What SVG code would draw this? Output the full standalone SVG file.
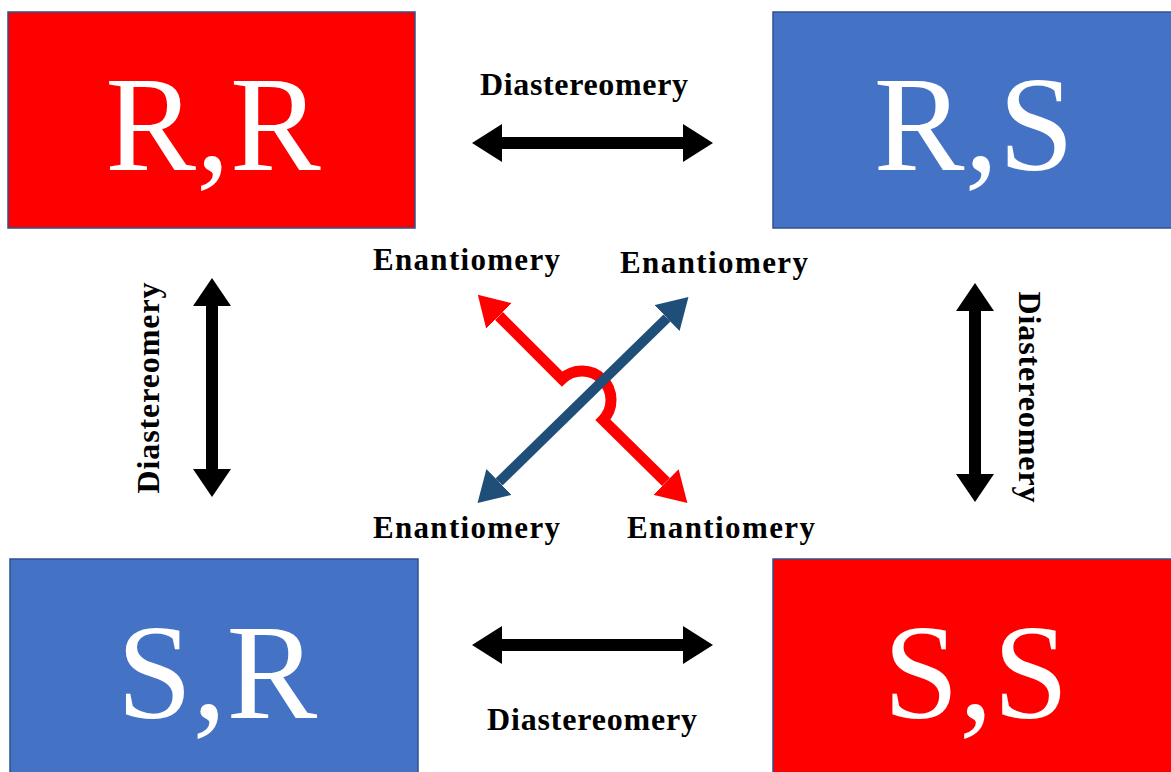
<svg xmlns="http://www.w3.org/2000/svg" width="1171" height="772" viewBox="0 0 1171 772">
<style>
.box{stroke:#2F528F;stroke-width:1.5}
.red{fill:#FF0000}
.blue{fill:#4472C4}
.big{font-family:"Liberation Serif","Times New Roman",serif;font-size:136px;fill:#fff;text-anchor:middle}
.lbl{font-family:"Liberation Serif","Times New Roman",serif;font-weight:bold;fill:#000}
.blk{fill:#000}
</style>
<defs>
<marker id="hr" viewBox="0 0 30 36" refX="0" refY="18" markerUnits="userSpaceOnUse" markerWidth="30" markerHeight="36" orient="auto-start-reverse"><path d="M0,0 L30,18 L0,36 z" fill="#FF0000"/></marker>
<marker id="hb" viewBox="0 0 30 36" refX="0" refY="18" markerUnits="userSpaceOnUse" markerWidth="30" markerHeight="36" orient="auto-start-reverse"><path d="M0,0 L30,18 L0,36 z" fill="#1F4E79"/></marker>
</defs>
<rect width="1171" height="772" fill="#fff"/>
<g id="node-RR"><rect class="box red" x="8" y="12" width="407" height="216"/><text class="big" x="213" y="170">R,R</text></g>
<g id="node-RS"><rect class="box blue" x="773" y="12" width="400" height="216"/><text class="big" x="974" y="170">R,S</text></g>
<g id="node-SR"><rect class="box blue" x="10" y="559" width="408" height="220"/><text class="big" x="217" y="718">S,R</text></g>
<g id="node-SS"><rect class="box red" x="773" y="559" width="400" height="220"/><text class="big" x="976" y="718">S,S</text></g>
<g id="connectors">
<polygon class="blk" points="472,143 502,124 502,137 683,137 683,124 713,143 683,162 683,149 502,149 502,162"/>
<polygon class="blk" points="472,645 502,626 502,639 683,639 683,626 713,645 683,664 683,651 502,651 502,664"/>
<polygon class="blk" points="212,278 231,306 218,306 218,469 231,469 212,497 193,469 206,469 206,306 193,306"/>
<polygon class="blk" points="975,283 994,311 981,311 981,474 994,474 975,502 956,474 969,474 969,311 956,311"/>
<path d="M499,316 L562,379 A29,29 0 0 1 603,420 L666,482" fill="none" stroke="#FF0000" stroke-width="11" marker-start="url(#hr)" marker-end="url(#hr)"/>
<path d="M499,482 L667,318" fill="none" stroke="#1F4E79" stroke-width="10" marker-start="url(#hb)" marker-end="url(#hb)"/>
</g>
<g id="labels">
<text class="lbl" x="480" y="95" font-size="32" textLength="208" lengthAdjust="spacing">Diastereomery</text>
<text class="lbl" x="487" y="730" font-size="32" textLength="210" lengthAdjust="spacing">Diastereomery</text>
<text class="lbl" font-size="32" text-anchor="middle" transform="translate(159,388) rotate(-90)" textLength="211" lengthAdjust="spacing">Diastereomery</text>
<text class="lbl" font-size="32" text-anchor="middle" transform="translate(1019,397) rotate(90)" textLength="211" lengthAdjust="spacing">Diastereomery</text>
<text class="lbl" x="373" y="270" font-size="31" textLength="187" lengthAdjust="spacing">Enantiomery</text>
<text class="lbl" x="620" y="273" font-size="31" textLength="188" lengthAdjust="spacing">Enantiomery</text>
<text class="lbl" x="373" y="538" font-size="31" textLength="187" lengthAdjust="spacing">Enantiomery</text>
<text class="lbl" x="627" y="538" font-size="31" textLength="188" lengthAdjust="spacing">Enantiomery</text>
</g>
</svg>
